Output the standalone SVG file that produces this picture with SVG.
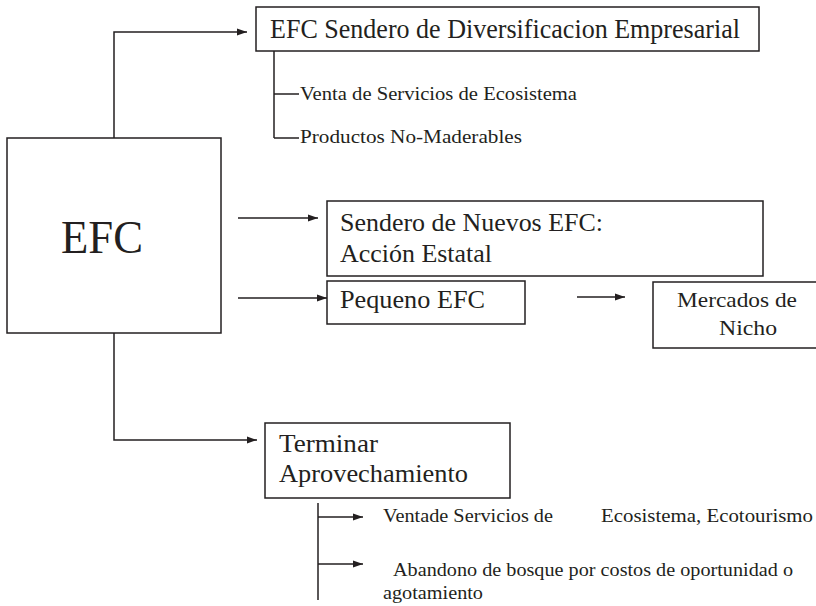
<svg xmlns="http://www.w3.org/2000/svg" width="816" height="606" viewBox="0 0 816 606">
<style>
.box{fill:#fff;stroke:#231f20;stroke-width:1.5}
.ln{fill:none;stroke:#231f20;stroke-width:1.5}
text{font-family:"Liberation Serif","Times New Roman",serif;fill:#231f20}
.t24{font-size:26px}
.t17{font-size:18px}
</style>
<defs>
<marker id="ah" viewBox="0 0 10 10" refX="10" refY="5" markerWidth="10" markerHeight="10" markerUnits="userSpaceOnUse" orient="auto">
<path d="M0,1.5 L10,5 L0,8.5 Z" fill="#231f20"/>
</marker>
</defs>
<g id="connectors">
<polyline class="ln" points="114,138 114,32 247,32" marker-end="url(#ah)"/>
<line class="ln" x1="274" y1="51" x2="274" y2="138"/>
<line class="ln" x1="274" y1="94" x2="299" y2="94"/>
<line class="ln" x1="274" y1="138" x2="299" y2="138"/>
<line class="ln" x1="238" y1="218" x2="318" y2="218" marker-end="url(#ah)"/>
<line class="ln" x1="238" y1="298" x2="327" y2="298" marker-end="url(#ah)"/>
<line class="ln" x1="577" y1="297" x2="625" y2="297" marker-end="url(#ah)"/>
<polyline class="ln" points="114,333 114,440 257,440" marker-end="url(#ah)"/>
<line class="ln" x1="318" y1="503" x2="318" y2="600"/>
<line class="ln" x1="318" y1="517" x2="363" y2="517" marker-end="url(#ah)"/>
<line class="ln" x1="318" y1="564" x2="363" y2="564" marker-end="url(#ah)"/>
</g>
<g id="efc">
<rect class="box" x="7" y="138" width="214" height="195"/>
<text x="61" y="253" font-size="46" textLength="82" lengthAdjust="spacingAndGlyphs">EFC</text>
</g>
<g id="diversificacion">
<rect class="box" x="256" y="7" width="503" height="44"/>
<text x="270" y="38" font-size="27" textLength="470" lengthAdjust="spacingAndGlyphs">EFC Sendero de Diversificacion Empresarial</text>
</g>
<g id="venta-servicios">
<text class="t17" x="300" y="100" textLength="277" lengthAdjust="spacingAndGlyphs">Venta de Servicios de Ecosistema</text>
</g>
<g id="productos">
<text class="t17" x="300" y="143" textLength="222" lengthAdjust="spacingAndGlyphs">Productos No-Maderables</text>
</g>
<g id="nuevos-efc">
<rect class="box" x="327" y="201" width="436" height="75"/>
<text class="t24" x="340" y="231" textLength="263" lengthAdjust="spacingAndGlyphs">Sendero de Nuevos EFC:</text>
<text class="t24" x="340" y="262" textLength="152" lengthAdjust="spacingAndGlyphs">Acción Estatal</text>
</g>
<g id="pequeno">
<rect class="box" x="327" y="281" width="198" height="43"/>
<text class="t24" x="340" y="308" textLength="145" lengthAdjust="spacingAndGlyphs">Pequeno EFC</text>
</g>
<g id="mercados">
<rect class="box" x="653" y="282" width="170" height="66"/>
<text x="677" y="307" font-size="22" textLength="120" lengthAdjust="spacingAndGlyphs">Mercados de</text>
<text x="719" y="335" font-size="22" textLength="58" lengthAdjust="spacingAndGlyphs">Nicho</text>
</g>
<g id="terminar">
<rect class="box" x="265" y="423" width="245" height="75"/>
<text class="t24" x="279" y="452" textLength="99" lengthAdjust="spacingAndGlyphs">Terminar</text>
<text class="t24" x="279" y="482" textLength="189" lengthAdjust="spacingAndGlyphs">Aprovechamiento</text>
</g>
<g id="ventade">
<text class="t17" x="383" y="522" textLength="170" lengthAdjust="spacingAndGlyphs">Ventade Servicios de</text>
<text class="t17" x="601" y="522" textLength="212" lengthAdjust="spacingAndGlyphs">Ecosistema, Ecotourismo</text>
</g>
<g id="abandono">
<text class="t17" x="393" y="576" textLength="400" lengthAdjust="spacingAndGlyphs">Abandono de bosque por costos de oportunidad o</text>
<text class="t17" x="383" y="599" textLength="100" lengthAdjust="spacingAndGlyphs">agotamiento</text>
</g>
</svg>
